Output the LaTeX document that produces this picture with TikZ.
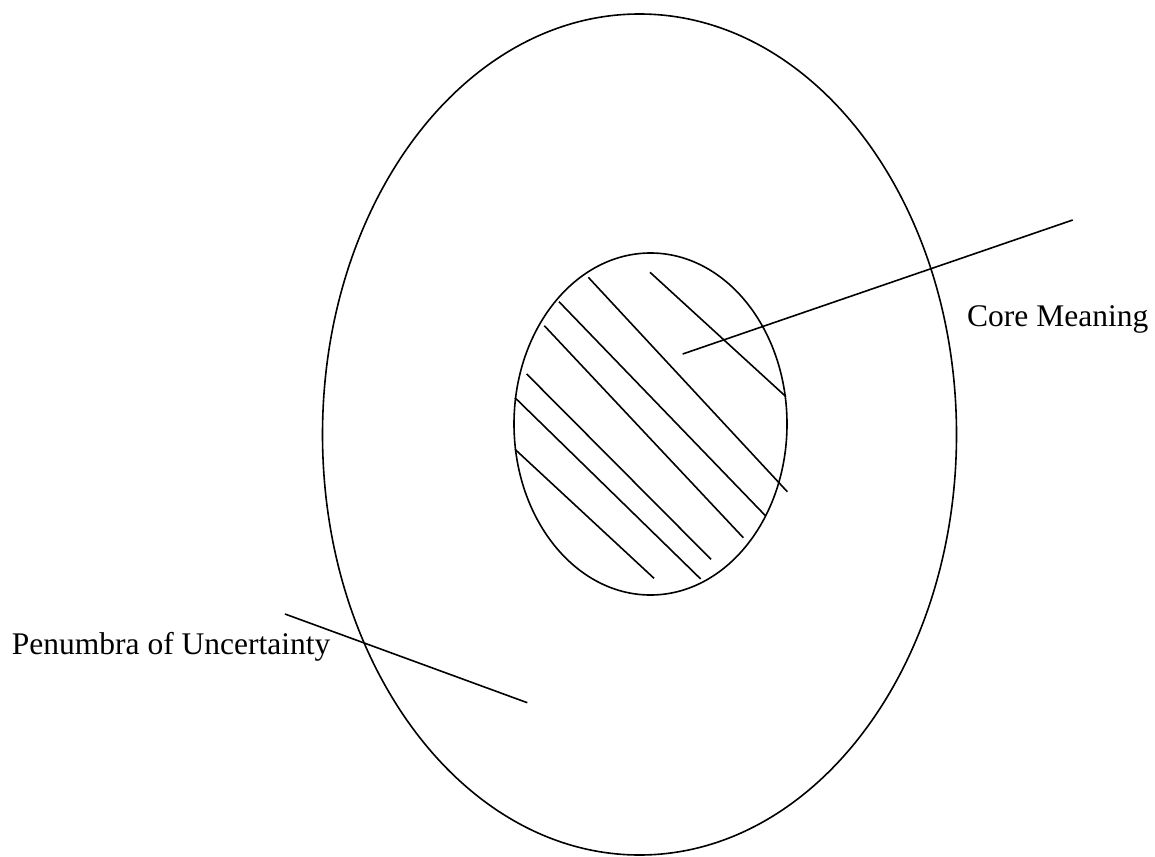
\documentclass[tikz,border=0pt]{standalone}
\usepackage{fontspec}
\setmainfont{Liberation Serif}
\begin{document}
\begin{tikzpicture}[x=1pt,y=-1pt,
  stroke/.style={line width=1.6pt,black},
  label/.style={anchor=base west,inner sep=0pt,font=\fontsize{31.5}{36}\selectfont}]
\useasboundingbox (0,0) rectangle (1155,856);
% ellipses
\draw[stroke] (639.5,434.5) ellipse [x radius=317, y radius=420.5];
\draw[stroke] (650.5,424) ellipse [x radius=136.5, y radius=171];
% hatching
\draw[stroke] (650,272.3) -- (786,396.7);
\draw[stroke] (588.3,277.3) -- (787.3,491.7);
\draw[stroke] (559,301.7) -- (765.7,516);
\draw[stroke] (544.3,325.7) -- (743.3,537.7);
\draw[stroke] (526.7,374) -- (711,559.3);
\draw[stroke] (515,397.7) -- (700.7,579);
\draw[stroke] (515,449.3) -- (654,578.3);
% labels
\node[label] (core) at (967,326) {Core Meaning};
\node[label] (pen) at (11.7,654) {Penumbra of Uncertainty};
% leaders
\coordinate (c1) at (1072.7,220);
\coordinate (c2) at (682.7,354);
\coordinate (p1) at (285,614);
\coordinate (p2) at (527.3,702.7);
\draw[stroke] (c1) -- (c2);
\draw[stroke] (p1) -- (p2);
\end{tikzpicture}
\end{document}
